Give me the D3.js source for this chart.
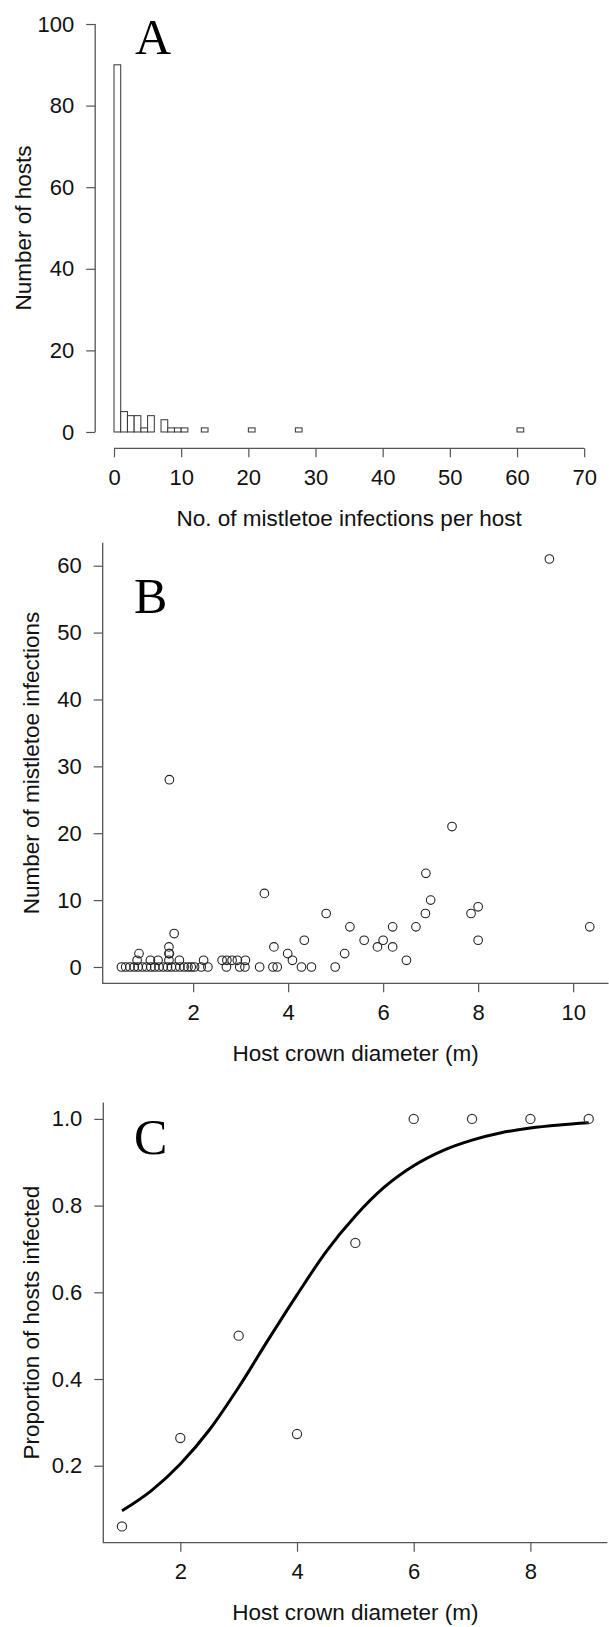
<!DOCTYPE html>
<html>
<head>
<meta charset="utf-8">
<script src="https://cdn.jsdelivr.net/npm/d3@7"></script>
<style>
  body { margin: 0; background: #fff; }
  svg { display: block; }
</style>
</head>
<body>
<div id="chart"></div>
<script>
// Panel A: histogram of infections per host (R hist, right-closed unit bins)
const histBinStart = [0, 1, 2, 3, 4, 5, 7, 8, 9, 10, 13, 20, 27, 60];
const histCount    = [90, 5, 4, 4, 1, 4, 3, 1, 1, 1, 1, 1, 1, 1];
const histTicksX = [0, 10, 20, 30, 40, 50, 60, 70];
const histTicksY = [0, 20, 40, 60, 80, 100];

// Panel B: crown diameter (m) vs number of infections, one entry per visible host
const crownDiam = [
  0.49, 0.58, 0.67, 0.76, 0.84, 0.93, 1.02, 1.11, 1.19, 1.28, 1.37, 1.46, 1.54, 1.63, 1.72,
  1.81, 1.89, 1.96, 2.03, 2.17, 2.31, 2.70, 2.98, 3.09, 3.40, 3.68, 3.77, 4.28, 4.49, 4.99,
  0.82, 1.10, 1.26, 1.49, 1.71, 2.22, 2.61, 2.71, 2.82, 2.93, 3.10, 4.09, 6.49,
  0.86, 1.49, 1.50, 3.99, 5.19,
  1.49, 3.70, 5.88, 6.20,
  4.34, 5.60, 6.00, 8.00,
  1.60,
  5.30, 6.20, 6.69, 10.35,
  4.80, 6.89, 7.85,
  8.00, 7.00, 3.50, 6.90, 7.45, 1.50, 9.50
];
const infections = [
  0, 0, 0, 0, 0, 0, 0, 0, 0, 0, 0, 0, 0, 0, 0,
  0, 0, 0, 0, 0, 0, 0, 0, 0, 0, 0, 0, 0, 0, 0,
  1, 1, 1, 1, 1, 1, 1, 1, 1, 1, 1, 1, 1,
  2, 2, 2, 2, 2,
  3, 3, 3, 3,
  4, 4, 4, 4,
  5,
  6, 6, 6, 6,
  8, 8, 8,
  9, 10, 11, 14, 21, 28, 61
];
const scatterTicksX = [2, 4, 6, 8, 10];
const scatterTicksY = [0, 10, 20, 30, 40, 50, 60];

// Panel C: proportion infected per diameter class, and the fitted curve
const classDiam = [1, 2, 3, 4, 5, 6, 7, 8, 9];
const propInfected = [0.06, 0.264, 0.5, 0.273, 0.714, 1, 1, 1, 1];
const fitDiam = [1, 1.5, 2, 2.5, 3, 3.5, 4, 4.5, 5, 5.5, 6, 6.5, 7, 7.5, 8, 8.5, 9];
const fitProp = [0.096, 0.142, 0.204, 0.283, 0.381, 0.489, 0.594, 0.694, 0.776, 0.843, 0.892, 0.927, 0.951, 0.968, 0.979, 0.986, 0.991];
const propTicksX = [2, 4, 6, 8];
const propTicksY = [0.2, 0.4, 0.6, 0.8, 1.0];

const W = 609, H = 1627;
const sans = "'Liberation Sans', Arial, Helvetica, sans-serif";
const serif = "'Liberation Serif', 'Times New Roman', serif";
const axisColor = "#555";
const tickFont = 22, titleFont = 22.5;

const svg = d3.select("#chart").append("svg")
  .attr("width", W).attr("height", H)
  .style("background", "#fff");

// R-style 4% axis expansion
const rLim = ext => {
  const pad = (ext[1] - ext[0]) * 0.04;
  return [ext[0] - pad, ext[1] + pad];
};

const panels = {
  A: {left: 95.2, right: 603, top: 7.7, bottom: 448.3},
  B: {left: 102.7, right: 608.5, top: 542.7, bottom: 983.3},
  C: {left: 103.3, right: 607.4, top: 1102.6, bottom: 1542.7}
};

function styleAxis(g) {
  g.select(".domain").remove();
  g.selectAll(".tick line").attr("stroke", axisColor).attr("stroke-width", 1.2);
  g.selectAll(".tick text")
    .attr("fill", "#111")
    .attr("font-size", tickFont)
    .attr("font-family", sans);
}

function drawAxes(p, x, y, ticksX, ticksY, fmtY, box) {
  svg.append("g")
    .attr("transform", `translate(0,${p.bottom})`)
    .call(d3.axisBottom(x).tickValues(ticksX).tickSize(9).tickPadding(12).tickFormat(d3.format("d")))
    .call(styleAxis);
  svg.append("g")
    .attr("transform", `translate(${p.left},0)`)
    .call(d3.axisLeft(y).tickValues(ticksY).tickSize(9).tickPadding(12).tickFormat(fmtY))
    .call(styleAxis);

  if (box) {
    svg.append("path")
      .attr("d", `M${p.left},${p.top}V${p.bottom}H${p.right}`)
      .attr("fill", "none").attr("stroke", axisColor).attr("stroke-width", 1.3);
  } else {
    svg.append("line")
      .attr("x1", x(ticksX[0])).attr("x2", x(ticksX[ticksX.length - 1]))
      .attr("y1", p.bottom).attr("y2", p.bottom)
      .attr("stroke", axisColor).attr("stroke-width", 1.3);
    svg.append("line")
      .attr("x1", p.left).attr("x2", p.left)
      .attr("y1", y(ticksY[0])).attr("y2", y(ticksY[ticksY.length - 1]))
      .attr("stroke", axisColor).attr("stroke-width", 1.3);
  }
}

function titles(p, xTitle, yTitle, letter, lx, ly) {
  svg.append("text")
    .attr("x", (p.left + p.right) / 2).attr("y", p.bottom + 77.5)
    .attr("text-anchor", "middle")
    .attr("font-family", sans).attr("font-size", titleFont).attr("fill", "#111")
    .text(xTitle);
  svg.append("text")
    .attr("transform", `translate(${p.left - 64},${(p.top + p.bottom) / 2}) rotate(-90)`)
    .attr("text-anchor", "middle")
    .attr("font-family", sans).attr("font-size", titleFont).attr("fill", "#111")
    .text(yTitle);
  svg.append("text")
    .attr("x", lx).attr("y", ly)
    .attr("font-family", serif).attr("font-size", 50).attr("fill", "#000")
    .text(letter);
}

// ---- A ----
{
  const p = panels.A;
  const x = d3.scaleLinear().domain(rLim([0, 70])).range([p.left, p.right]);
  const y = d3.scaleLinear().domain(rLim([0, 100])).range([p.bottom, p.top]);
  const countAt = new Map(histBinStart.map((b, i) => [b, histCount[i]]));
  const bins = d3.range(0, 70).map(b => ({x0: b, x1: b + 1, n: countAt.get(b) || 0}));

  svg.append("g")
    .selectAll("rect")
    .data(bins)
    .join("rect")
    .attr("x", d => x(d.x0))
    .attr("width", d => x(d.x1) - x(d.x0))
    .attr("y", d => y(d.n))
    .attr("height", d => y(0) - y(d.n))
    .attr("fill", "#fff")
    .attr("stroke", "#333")
    .attr("stroke-width", 1);

  drawAxes(p, x, y, histTicksX, histTicksY, d3.format("d"), false);
  titles(p, "No. of mistletoe infections per host", "Number of hosts", "A", 135, 54);
}

// ---- B ----
{
  const p = panels.B;
  const x = d3.scaleLinear().domain(rLim(d3.extent(crownDiam))).range([p.left, p.right]);
  const y = d3.scaleLinear().domain(rLim(d3.extent(infections))).range([p.bottom, p.top]);

  drawAxes(p, x, y, scatterTicksX, scatterTicksY, d3.format("d"), true);

  svg.append("g")
    .selectAll("circle")
    .data(crownDiam.map((d, i) => [d, infections[i]]))
    .join("circle")
    .attr("cx", d => x(d[0]))
    .attr("cy", d => y(d[1]))
    .attr("r", 4.3)
    .attr("fill", "none")
    .attr("stroke", "#222")
    .attr("stroke-width", 1.1);

  titles(p, "Host crown diameter (m)", "Number of mistletoe infections", "B", 134, 613);
}

// ---- C ----
{
  const p = panels.C;
  const x = d3.scaleLinear().domain(rLim(d3.extent(classDiam))).range([p.left, p.right]);
  const y = d3.scaleLinear().domain(rLim(d3.extent(propInfected))).range([p.bottom, p.top]);

  drawAxes(p, x, y, propTicksX, propTicksY, d3.format(".1f"), true);

  const line = d3.line()
    .x(d => x(d[0]))
    .y(d => y(d[1]))
    .curve(d3.curveMonotoneX);

  svg.append("path")
    .attr("d", line(fitDiam.map((d, i) => [d, fitProp[i]])))
    .attr("fill", "none")
    .attr("stroke", "#000")
    .attr("stroke-width", 3);

  svg.append("g")
    .selectAll("circle")
    .data(classDiam.map((d, i) => [d, propInfected[i]]))
    .join("circle")
    .attr("cx", d => x(d[0]))
    .attr("cy", d => y(d[1]))
    .attr("r", 4.6)
    .attr("fill", "none")
    .attr("stroke", "#333")
    .attr("stroke-width", 1.2);

  titles(p, "Host crown diameter (m)", "Proportion of hosts infected", "C", 134, 1154);
}
</script>
</body>
</html>
